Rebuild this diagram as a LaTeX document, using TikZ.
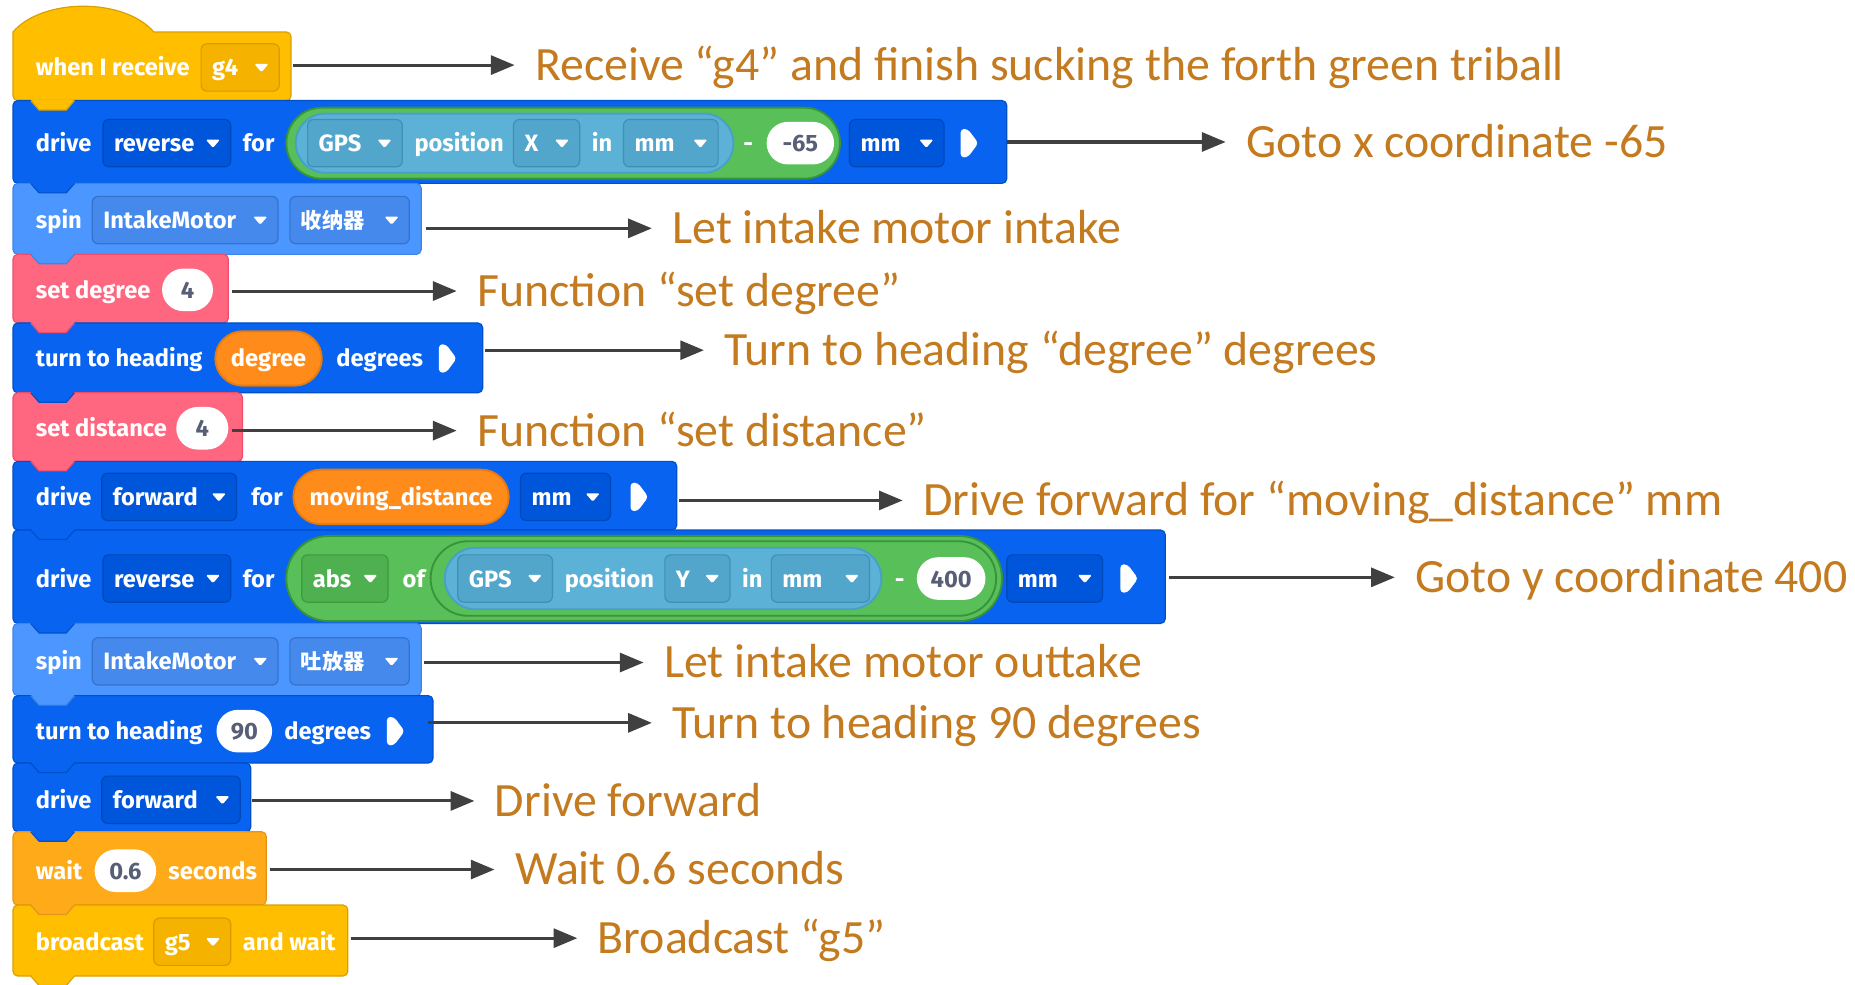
\documentclass[tikz,border=0pt]{standalone}
\usepackage{fontspec}
\usetikzlibrary{arrows.meta,shapes.misc}
\newfontfamily\blkfont{Fira Sans}
\newfontfamily\cjkfont{Noto Sans CJK SC}
\newfontfamily\lblfont{Carlito}

% block palette
\definecolor{evfill}{HTML}{FFBF00}\definecolor{evline}{HTML}{D9A000}
\definecolor{evdd}{HTML}{F5B300}\definecolor{evddb}{HTML}{D99A00}
\definecolor{drvfill}{HTML}{0863F0}\definecolor{drvline}{HTML}{0050C8}
\definecolor{drvdd}{HTML}{0056DA}\definecolor{drvddb}{HTML}{0047B8}
\definecolor{spfill}{HTML}{4C97FF}\definecolor{spline}{HTML}{3D84E6}
\definecolor{spdd}{HTML}{4489EB}\definecolor{spddb}{HTML}{3373CC}
\definecolor{pkfill}{HTML}{FF6680}\definecolor{pkline}{HTML}{F04D6A}
\definecolor{ctfill}{HTML}{FFAB19}\definecolor{ctline}{HTML}{E5931A}
\definecolor{grfill}{HTML}{59C059}\definecolor{grline}{HTML}{389438}
\definecolor{grdd}{HTML}{4FB04F}\definecolor{grddb}{HTML}{3D9A3D}
\definecolor{snfill}{HTML}{5CB1D6}\definecolor{snline}{HTML}{47A0C6}
\definecolor{sndd}{HTML}{52A6CC}\definecolor{snddb}{HTML}{3F90B8}
\definecolor{vrfill}{HTML}{FF8C1A}\definecolor{vrline}{HTML}{E67A0F}
\definecolor{numgray}{HTML}{575E75}
\definecolor{notecolor}{HTML}{C47A1E}
\definecolor{arrowgray}{HTML}{404040}

\pgfdeclarelayer{bodies}\pgfdeclarelayer{tabs}
\pgfsetlayers{bodies,tabs,main}

\newcounter{elem}

% tab hanging below a block into the next one
\newcommand\blocktab[3]{%
  \begin{pgfonlayer}{tabs}
    \fill[#2] (26,#1-1) -- (33,#1+8) -- (56,#1+8) -- (63,#1-1) -- cycle;
    \draw[#3,line width=0.5pt] (26,#1) -- (33,#1+8) -- (56,#1+8) -- (63,#1);
  \end{pgfonlayer}}
% block body: y1, y2, right x, fill, outline
\newcommand\blockbody[5]{%
  \begin{pgfonlayer}{bodies}
    \filldraw[fill=#4,draw=#5,line width=0.5pt,rounded corners=2pt] (11,#1) rectangle (#3,#2);
  \end{pgfonlayer}
  \blocktab{#2}{#4}{#5}}
% white label text inside a block: x, y, text
\newcommand\btext[3]{%
  \stepcounter{elem}\node[btxt,anchor=west] (e\arabic{elem}) at (#1,#2) {#3};}
% dropdown field: x1, x2, y, text, fill, outline
\newcommand\ddbox[6]{%
  \filldraw[fill=#5,draw=#6,line width=0.5pt,rounded corners=2.5pt] (#1,#3-20) rectangle (#2,#3+20);
  \btext{#1+9}{#3}{#4}
  \fill[white,rounded corners=0.6pt] (#2-21,#3-3) -- (#2-9,#3-3) -- (#2-15,#3+4) -- cycle;}
% white number input: x1, x2, y, text
\newcommand\numpill[4]{%
  \stepcounter{elem}\node[rounded rectangle,fill=white,inner sep=0pt,
    minimum width={(#2-#1)*0.5pt},minimum height=18pt,btxt,text=numgray]
    (e\arabic{elem}) at ({(#1+#2)/2},#3) {#4};}
% reporter pill: x1, x2, y, height (px), fill, outline, text
\newcommand\reporter[7]{%
  \stepcounter{elem}\node[rounded rectangle,fill=#5,draw=#6,line width=0.8pt,inner sep=0pt,
    minimum width={(#2-#1)*0.5pt},minimum height={#4*0.5pt},btxt]
    (e\arabic{elem}) at ({(#1+#2)/2},#3) {#7};}
% run arrow at the end of a drive/turn block
\newcommand\runicon[2]{%
  \fill[white,rounded corners=1.5pt] (#1,#2-12) -- (#1+6,#2-12) -- (#1+15,#2) -- (#1+6,#2+12) -- (#1,#2+12) -- cycle;}

\tikzset{
  btxt/.style={font={\blkfont\bfseries\fontsize{10pt}{12pt}\selectfont},text=white,
    inner sep=0pt,text height=7.2pt,text depth=0pt},
  note/.style={font={\lblfont\fontsize{20.2pt}{24pt}\selectfont},text=notecolor,
    anchor=west,inner sep=0pt,text height=13pt,text depth=0pt},
  conn/.style={draw=arrowgray,line width=1.3pt,-{Triangle[length=10pt,width=8pt]},shorten >=8.5pt}
}

\begin{document}
\begin{tikzpicture}[x=0.5pt,y=-0.5pt]
\useasboundingbox (0,0) rectangle (1568,832);
\clip (0,0) rectangle (1568,832);
\begin{pgfonlayer}{bodies}
  \fill[white] (0,0) rectangle (1568,832);
\end{pgfonlayer}

% ---- hat block: when I receive
\begin{pgfonlayer}{bodies}
  \filldraw[fill=evfill,draw=evline,line width=0.5pt]
    (130,27) [rounded corners=2pt] -- (246,27) -- (246,85) -- (11,85) [sharp corners] -- (11,27)
    .. controls (36,-2) and (105,-2) .. (130,27) -- cycle;
\end{pgfonlayer}
\blocktab{85}{evfill}{evline}
\btext{30}{57}{when I receive}
\ddbox{170}{236}{57}{g4}{evdd}{evddb}

% ---- drive reverse for (GPS position X in mm - -65) mm
\blockbody{85}{155}{851}{drvfill}{drvline}
\btext{30}{121}{drive}
\ddbox{87}{195}{121}{reverse}{drvdd}{drvddb}
\btext{205}{121}{for}
\reporter{242}{710}{121}{60}{grfill}{grline}{}
\reporter{250}{620}{121}{50}{snfill}{snline}{}
\ddbox{260}{340}{121}{GPS}{sndd}{snddb}
\btext{350}{121}{position}
\ddbox{434}{490}{121}{X}{sndd}{snddb}
\btext{500}{121}{in}
\ddbox{527}{607}{121}{mm}{sndd}{snddb}
\btext{628}{121}{-}
\numpill{648}{705}{121}{-65}
\ddbox{718}{798}{121}{mm}{drvdd}{drvddb}
\runicon{812}{121}

% ---- spin IntakeMotor (intake)
\blockbody{155}{215}{356}{spfill}{spline}
\btext{30}{186}{spin}
\ddbox{78}{235}{186}{IntakeMotor}{spdd}{spddb}
\ddbox{245}{346}{186}{{\cjkfont\bfseries\fontsize{9pt}{11pt}\selectfont 收纳器}}{spdd}{spddb}

% ---- set degree 4
\blockbody{215}{273}{193}{pkfill}{pkline}
\btext{30}{245}{set degree}
\numpill{137}{180}{245}{4}

% ---- turn to heading (degree) degrees
\blockbody{273}{332}{408}{drvfill}{drvline}
\btext{30}{303}{turn to heading}
\reporter{182}{272}{303}{46}{vrfill}{vrline}{degree}
\btext{284}{303}{degrees}
\runicon{371}{303}

% ---- set distance 4
\blockbody{332}{390}{205}{pkfill}{pkline}
\btext{30}{362}{set distance}
\numpill{149}{193}{362}{4}

% ---- drive forward for (moving_distance) mm
\blockbody{390}{448}{572}{drvfill}{drvline}
\btext{30}{420}{drive}
\ddbox{86}{200}{420}{forward}{drvdd}{drvddb}
\btext{212}{420}{for}
\reporter{248}{430}{420}{46}{vrfill}{vrline}{moving\_distance}
\ddbox{440}{516}{420}{mm}{drvdd}{drvddb}
\runicon{533}{420}

% ---- drive reverse for abs of (GPS position Y in mm - 400) mm
\blockbody{448}{527}{985}{drvfill}{drvline}
\btext{30}{489}{drive}
\ddbox{87}{195}{489}{reverse}{drvdd}{drvddb}
\btext{205}{489}{for}
\reporter{242}{847}{489}{72}{grfill}{grline}{}
\ddbox{255}{328}{489}{abs}{grdd}{grddb}
\btext{340}{489}{of}
\reporter{364}{842}{489}{63}{grfill}{grline}{}
\reporter{376}{745}{489}{52}{snfill}{snline}{}
\ddbox{387}{467}{489}{GPS}{sndd}{snddb}
\btext{477}{489}{position}
\ddbox{562}{617}{489}{Y}{sndd}{snddb}
\btext{627}{489}{in}
\ddbox{652}{735}{489}{mm}{sndd}{snddb}
\btext{756}{489}{-}
\numpill{775}{833}{489}{400}
\ddbox{851}{932}{489}{mm}{drvdd}{drvddb}
\runicon{947}{489}

% ---- spin IntakeMotor (outtake)
\blockbody{527}{588}{356}{spfill}{spline}
\btext{30}{559}{spin}
\ddbox{78}{235}{559}{IntakeMotor}{spdd}{spddb}
\ddbox{245}{346}{559}{{\cjkfont\bfseries\fontsize{9pt}{11pt}\selectfont 吐放器}}{spdd}{spddb}

% ---- turn to heading 90 degrees
\blockbody{588}{645}{366}{drvfill}{drvline}
\btext{30}{618}{turn to heading}
\numpill{183}{230}{618}{90}
\btext{240}{618}{degrees}
\runicon{327}{618}

% ---- drive forward
\blockbody{645}{703}{212}{drvfill}{drvline}
\btext{30}{676}{drive}
\ddbox{86}{203}{676}{forward}{drvdd}{drvddb}

% ---- wait 0.6 seconds
\blockbody{703}{765}{225}{ctfill}{ctline}
\btext{30}{736}{wait}
\numpill{80}{132}{736}{0.6}
\btext{142}{736}{seconds}

% ---- broadcast g5 and wait
\blockbody{765}{825}{294}{evfill}{evline}
\btext{30}{796}{broadcast}
\ddbox{130}{195}{796}{g5}{evdd}{evddb}
\btext{205}{796}{and wait}

% ---- explanations
\coordinate (s1) at (248,55);   \node[note] (l1) at (452,55) {Receive “g4” and finish sucking the forth green triball};
\coordinate (s2) at (851,120);  \node[note] (l2) at (1053,120) {Goto x coordinate -65};
\coordinate (s3) at (360,193);  \node[note] (l3) at (568,193) {Let intake motor intake};
\coordinate (s4) at (196,246);  \node[note] (l4) at (403,246) {Function “set degree”};
\coordinate (s5) at (410,296);  \node[note] (l5) at (612,296) {Turn to heading “degree” degrees};
\coordinate (s6) at (196,364);  \node[note] (l6) at (403,364) {Function “set distance”};
\coordinate (s7) at (574,423);  \node[note] (l7) at (780,423) {Drive forward for “moving\_distance” mm};
\coordinate (s8) at (988,488);  \node[note] (l8) at (1196,488) {Goto y coordinate 400};
\coordinate (s9) at (358,560);  \node[note] (l9) at (561,560) {Let intake motor outtake};
\coordinate (s10) at (362,611); \node[note] (l10) at (568,611) {Turn to heading 90 degrees};
\coordinate (s11) at (213,677); \node[note] (l11) at (418,677) {Drive forward};
\coordinate (s12) at (228,735); \node[note] (l12) at (435,735) {Wait 0.6 seconds};
\coordinate (s13) at (297,793); \node[note] (l13) at (505,793) {Broadcast “g5”};

\foreach \i in {1,...,13} \draw[conn] (s\i) -- (l\i.west);
\end{tikzpicture}
\end{document}
